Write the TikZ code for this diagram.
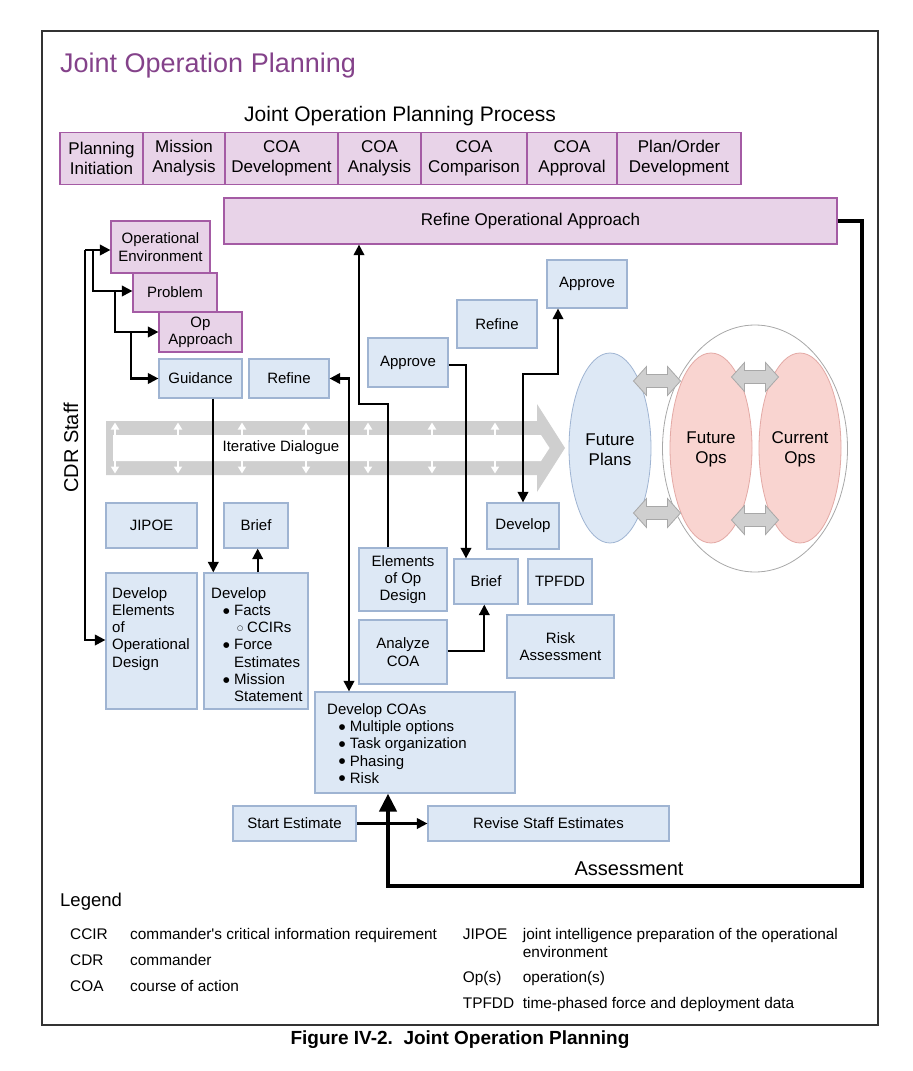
\documentclass[tikz,border=0pt]{standalone}
\usepackage{fontspec}
\setmainfont{Liberation Sans}
\newfontfamily\djv{DejaVu Sans}
\usetikzlibrary{arrows.meta,calc,shapes.geometric}
\definecolor{pfill}{HTML}{E8D3E8}
\definecolor{pdraw}{HTML}{A45BA4}
\definecolor{bfill}{HTML}{DDE8F5}
\definecolor{bdraw}{HTML}{9FB4D2}
\definecolor{ttl}{HTML}{84428A}
\definecolor{pkfill}{HTML}{F9D4D0}
\definecolor{pkdraw}{HTML}{E3A9A5}
\definecolor{garr}{HTML}{CFCFCF}
\definecolor{gdraw}{HTML}{A8A8A8}
\definecolor{framec}{HTML}{333333}
\newcommand\blkdarrow[2]{\filldraw[fill=garr, draw=gdraw, line width=0.8pt] ({#1-23.5},#2) -- ({#1-10.5},{#2-14.5}) -- ({#1-10.5},{#2-6.5}) -- ({#1+10.5},{#2-6.5}) -- ({#1+10.5},{#2-14.5}) -- ({#1+23.5},#2) -- ({#1+10.5},{#2+14.5}) -- ({#1+10.5},{#2+6.5}) -- ({#1-10.5},{#2+6.5}) -- ({#1-10.5},{#2+14.5}) -- cycle;}
\newcommand\bul{\raisebox{2.2pt}{{\djv\fontsize{7.5}{8}\selectfont ●}}}
\newcommand\obul{\raisebox{2.2pt}{{\djv\fontsize{7}{8}\selectfont ○}}}
\begin{document}
\begin{tikzpicture}[x=1pt,y=-1pt,
  pbox/.style={draw=pdraw, fill=pfill, line width=1.2pt, inner sep=0pt, align=center, font=\fontsize{17}{20}\selectfont},
  pboxs/.style={pbox, font=\fontsize{15}{17.3}\selectfont},
  bbox/.style={draw=bdraw, fill=bfill, line width=1.2pt, inner sep=0pt, align=center, font=\fontsize{15}{17.3}\selectfont},
  listtxt/.style={anchor=north west, inner sep=0pt, align=left, font=\fontsize{15}{17.3}\selectfont},
  lg/.style={anchor=base west, inner sep=0pt, font=\fontsize{15.4}{17.4}\selectfont},
  conn/.style={line width=2.1pt, -{Triangle[length=10.5pt,width=10.5pt]}},
  conn2/.style={line width=2.1pt, {Triangle[length=10.5pt,width=10.5pt]}-{Triangle[length=10.5pt,width=10.5pt]}},
  thickconn/.style={line width=4.2pt, -{Triangle[length=18pt,width=17pt]}},
  wdarr/.style={white, line width=2.2pt, {Triangle[length=7pt,width=8pt]}-{Triangle[length=7pt,width=8pt]}},
  ell/.style={ellipse, inner sep=0pt, line width=0.8pt, align=center, font=\fontsize{17}{20}\selectfont}
]
\useasboundingbox (0,0) rectangle (913,1071);
\draw[framec, line width=1.8pt] (42,31) rectangle (878,1025);

% titles
\node[anchor=base west, text=ttl, font=\fontsize{27}{32}\selectfont, inner sep=0pt] (title) at (60,72.5) {Joint Operation Planning};
\node[anchor=base, font=\fontsize{21}{25}\selectfont, inner sep=0pt] (subt) at (400,121.7) {Joint Operation Planning Process};

% process bar
\node[pbox, minimum width=83pt, minimum height=52pt] (pi) at (101.5,158.5) {Planning\\Initiation};
\node[pbox, minimum width=82pt, minimum height=52pt] (ma) at (184,158.5) {Mission\\Analysis};
\node[pbox, minimum width=113pt, minimum height=52pt] (cd) at (281.5,158.5) {COA\\Development};
\node[pbox, minimum width=83pt, minimum height=52pt] (ca) at (379.5,158.5) {COA\\Analysis};
\node[pbox, minimum width=106pt, minimum height=52pt] (cc) at (474,158.5) {COA\\Comparison};
\node[pbox, minimum width=90pt, minimum height=52pt] (cap) at (572,158.5) {COA\\Approval};
\node[pbox, minimum width=124pt, minimum height=52pt] (pod) at (679,158.5) {Plan/Order\\Development};
\node[pbox, minimum width=613pt, minimum height=46pt] (roa) at (530.5,221) {Refine Operational Approach};

% iterative dialogue arrow
\fill[garr] (106,421) -- (537,421) -- (537,404) -- (565,448) -- (537,492) -- (537,475) -- (106,475) -- cycle;
\fill[white] (113,435) -- (541,435) -- (549.5,448) -- (541,461) -- (113,461) -- cycle;
\foreach \xx in {115,178,242,306,368,432,495} {\draw[wdarr] (\xx,422.5) -- (\xx,473.5);}
\node[font=\fontsize{15}{18}\selectfont, inner sep=0pt] (itd) at (281,448) {Iterative Dialogue};

% CDR staff label
\node[rotate=90, font=\fontsize{20}{24}\selectfont, inner sep=0pt] (cdr) at (71,448) {CDR Staff};

% left cascade
\node[pboxs, minimum width=99pt, minimum height=52pt] (openv) at (160.5,247) {Operational\\Environment};
\node[pboxs, minimum width=84pt, minimum height=39pt] (prob) at (175,292.5) {Problem};
\node[pboxs, minimum width=83pt, minimum height=40pt] (opapp) at (200.5,332) {Op\\Approach};
\node[bbox, minimum width=83pt, minimum height=39pt] (guid) at (200.5,378.5) {Guidance};
\node[bbox, minimum width=80pt, minimum height=39pt] (refl) at (289,378.5) {Refine};

\node[bbox, minimum width=91pt, minimum height=45pt] (jipoe) at (151.5,525.5) {JIPOE};
\node[bbox, minimum width=64pt, minimum height=45pt] (briefl) at (256,525.5) {Brief};
\node[bbox, minimum width=91pt, minimum height=136pt] (deve) at (151.5,641) {};
\node[bbox, minimum width=104pt, minimum height=136pt] (devl) at (256,641) {};
\node[listtxt] (devet) at (112,587) {Develop\\Elements\\of\\Operational\\Design};
\node[listtxt] (devlt) at (211,587) {Develop\\\makebox[23pt][r]{\bul\hspace{4.5pt}}Facts\\\makebox[36pt][r]{\obul\hspace{4pt}}CCIRs\\\makebox[23pt][r]{\bul\hspace{4.5pt}}Force\\\hspace*{23pt}Estimates\\\makebox[23pt][r]{\bul\hspace{4.5pt}}Mission\\\hspace*{23pt}Statement};

% middle boxes
\node[bbox, minimum width=80pt, minimum height=49pt] (appm) at (408,362.5) {Approve};
\node[bbox, minimum width=80pt, minimum height=48pt] (refr) at (497,324) {Refine};
\node[bbox, minimum width=80pt, minimum height=48pt] (appr) at (587,284) {Approve};
\node[bbox, minimum width=72pt, minimum height=46pt] (devr) at (523,526) {Develop};
\node[bbox, minimum width=88pt, minimum height=63pt] (eod) at (403,579.5) {Elements\\of Op\\Design};
\node[bbox, minimum width=64pt, minimum height=45pt] (briefm) at (486,581.5) {Brief};
\node[bbox, minimum width=64pt, minimum height=45pt] (tpfdd) at (560,581.5) {TPFDD};
\node[bbox, minimum width=88pt, minimum height=64pt] (acoa) at (403,652) {Analyze\\COA};
\node[bbox, minimum width=107pt, minimum height=63pt] (risk) at (560.5,646.5) {Risk\\Assessment};
\node[bbox, minimum width=200pt, minimum height=101pt] (dcoas) at (415,742.5) {};
\node[listtxt, font=\fontsize{15}{17.1}\selectfont] (dcoast) at (327,703.7) {Develop COAs\\\makebox[22.7pt][r]{\bul\hspace{4.5pt}}Multiple options\\\makebox[22.7pt][r]{\bul\hspace{4.5pt}}Task organization\\\makebox[22.7pt][r]{\bul\hspace{4.5pt}}Phasing\\\makebox[22.7pt][r]{\bul\hspace{4.5pt}}Risk};
\node[bbox, minimum width=123pt, minimum height=35pt] (start) at (294.5,823.5) {Start Estimate};
\node[bbox, minimum width=241pt, minimum height=35pt] (revise) at (548.5,823.5) {Revise Staff Estimates};

% right ellipses
\node[ell, draw=gdraw, fill=white, minimum width=185pt, minimum height=247pt] (opsc) at (755,448.5) {};
\node[ell, draw=pkdraw, fill=pkfill, minimum width=82pt, minimum height=190pt] (fo) at (711,448) {};
\node[ell, draw=pkdraw, fill=pkfill, minimum width=82pt, minimum height=190pt] (co) at (800,448) {};
\node[ell, draw=bdraw, fill=bfill, minimum width=82pt, minimum height=190pt] (fp) at (610,448) {};
\blkdarrow{657}{381}
\blkdarrow{657}{513}
\blkdarrow{755}{377}
\blkdarrow{755}{520}
\node[align=center, inner sep=0pt, font=\fontsize{17}{20}\selectfont] (fpt) at ([yshift=-1.5pt]fp.center) {Future\\Plans};
\node[align=center, inner sep=0pt, font=\fontsize{17}{20}\selectfont] (fot) at ([yshift=-1.5pt]fo.center) {Future\\Ops};
\node[align=center, inner sep=0pt, font=\fontsize{17}{20}\selectfont] (cot) at ([yshift=-1.5pt]co.center) {Current\\Ops};

% connectors - left
\coordinate (s0) at (85,250);
\coordinate (s1) at (85,640);
\draw[conn] (s0) -- (s0 -| openv.west);
\draw[conn] (s0) -- (s1) -- (s1 -| deve.west);
\coordinate (b1) at (93,250); \coordinate (b1e) at (93,291);
\draw[conn] (b1) -- (b1e) -- (b1e -| prob.west);
\coordinate (b2) at (115,291); \coordinate (b2e) at (115,332);
\draw[conn] (b2) -- (b2e) -- (b2e -| opapp.west);
\coordinate (b3) at (131,332); \coordinate (b3e) at (131,378.5);
\draw[conn] (b3) -- (b3e) -- (b3e -| guid.west);
\coordinate (g1) at ([xshift=12.8pt]guid.south);
\draw[conn] (g1) -- (g1 |- devl.north);
\coordinate (d1) at ([xshift=1.7pt]devl.north);
\draw[conn] (d1) -- (d1 |- briefl.south);

% connectors - middle
\coordinate (e1) at ([xshift=-15pt]eod.north);
\coordinate (k1) at (359,404);
\draw[conn] (e1) |- (k1) -- (k1 |- roa.south);
\coordinate (k2) at (349,378.5);
\draw[conn2] (k2 |- dcoas.north) -- (k2) -- (refl.east);
\coordinate (m0) at ([yshift=-2.5pt]appm.east);
\coordinate (m1) at ([xshift=-20pt]briefm.north);
\draw[conn] (m0) -| (m1);
\coordinate (k3) at (523,374);
\coordinate (r1) at ([xshift=-29pt]appr.south);
\draw[conn2] (devr.north) -- (k3) -| (r1);
\coordinate (c0) at ([yshift=1.3pt]acoa.east);
\coordinate (c1) at ([xshift=-1.7pt]briefm.south);
\draw[conn] (c0) -| (c1);
\draw[conn] (start.east) -- (revise.west);

% assessment loop
\coordinate (a1) at (862,886);
\coordinate (a2) at ([xshift=-27pt]dcoas.south);
\draw[thickconn] (roa.east) -| (a1) -| (a2);
\node[anchor=base, inner sep=0pt, font=\fontsize{20}{24}\selectfont] (assess) at (629,875) {Assessment};

% legend
\node[anchor=base west, inner sep=0pt, font=\fontsize{18.5}{22}\selectfont] (leg) at (60,906) {Legend};
\node[lg] (l1a) at (70,939.3) {CCIR};
\node[lg] (l1b) at (130,939.3) {commander\textquotesingle s critical information requirement};
\node[lg] (l2a) at (70,965.7) {CDR};
\node[lg] (l2b) at (130,965.7) {commander};
\node[lg] (l3a) at (70,991) {COA};
\node[lg] (l3b) at (130,991) {course of action};
\node[lg] (r1a) at (462.7,939.3) {JIPOE};
\node[lg, anchor=north west, align=left, font=\fontsize{15.4}{17.4}\selectfont] (r1b) at (522.7,928.3) {joint intelligence preparation of the operational\\environment};
\node[lg] (r2a) at (462.7,982.7) {Op(s)};
\node[lg] (r2b) at (522.7,982.7) {operation(s)};
\node[lg] (r3a) at (462.7,1008.3) {TPFDD};
\node[lg] (r3b) at (522.7,1008.3) {time-phased force and deployment data};

% caption
\node[anchor=base, inner sep=0pt, font=\bfseries\fontsize{19}{22}\selectfont] (capt) at (460,1044.5) {Figure IV-2.\ \ Joint Operation Planning};
\end{tikzpicture}
\end{document}
